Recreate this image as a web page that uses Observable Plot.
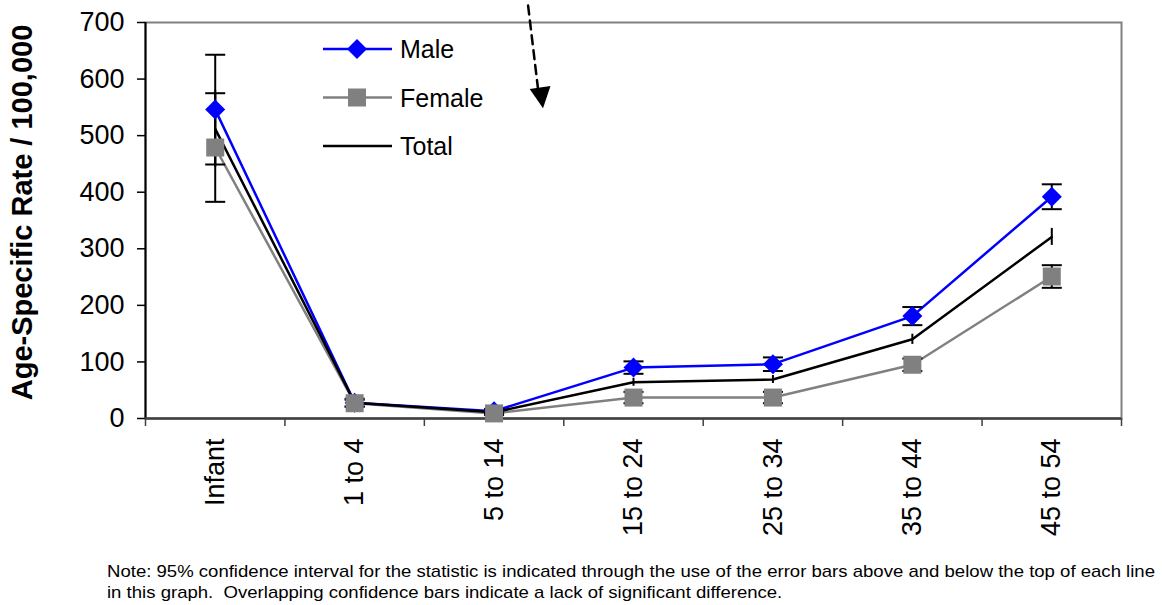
<!DOCTYPE html>
<html>
<head>
<meta charset="utf-8">
<script src="https://cdn.jsdelivr.net/npm/d3@7"></script>
<script src="https://cdn.jsdelivr.net/npm/@observablehq/plot@0.6"></script>
<style>
  html, body { margin: 0; padding: 0; background: #ffffff; }
  #wrap { position: relative; width: 1162px; height: 605px; font-family: "Liberation Sans", Arial, sans-serif; }
  #legend, #note { position: absolute; left: 0; }
  #legend { top: 0; pointer-events: none; }
  #note { top: 555px; }
</style>
</head>
<body>
<div id="wrap"></div>
<script>
// ---- data ----
const categories = ["Infant", "1 to 4", "5 to 14", "15 to 24", "25 to 34", "35 to 44", "45 to 54"];
const male      = [546, 28, 13, 90, 96, 181, 392];
const maleErr   = [97, 7, 4, 11, 12, 16, 22];
const female    = [479, 27, 9, 37, 37, 95, 251];
const femaleErr = [96, 6, 3, 10, 10, 11, 20];
const total     = [512, 28, 11, 64, 69, 140, 321];
const totalErr  = [68, 5, 3, 7, 7, 9, 15];
const yTicks = [0, 100, 200, 300, 400, 500, 600, 700];
const yTitle = "Age-Specific Rate / 100,000";
const legendItems = [
  {label: "Male", color: "#0000FF", marker: "diamond"},
  {label: "Female", color: "#808080", marker: "square"},
  {label: "Total", color: "#000000", marker: null}
];
// annotation arrow (data coordinates: category index, rate)
const arrowLine = [{x: 2.244, y: 730}, {x: 2.315, y: 583}];
const arrowHead = [{x: 2.337, y: 573}];
const noteLines = [
  "Note: 95% confidence interval for the statistic is indicated through the use of the error bars above and below the top of each line",
  "in this graph.  Overlapping confidence bars indicate a lack of significant difference."
];

// ---- tables ----
const rows = (vals, errs) => vals.map((v, i) => ({i, value: v, err: errs[i]}));
const maleRows = rows(male, maleErr);
const femaleRows = rows(female, femaleErr);
const totalRows = rows(total, totalErr);
const capRows = [...maleRows, ...femaleRows].flatMap(d => [
  {i: d.i, y: d.value - d.err}, {i: d.i, y: d.value + d.err}
]);

// ---- custom symbols ----
const capSymbol = {draw(ctx, size) { const r = Math.sqrt(size / Math.PI); ctx.moveTo(-r, 0); ctx.lineTo(r, 0); }};
const diamondSymbol = {draw(ctx, size) { const r = Math.sqrt(size / Math.PI); ctx.moveTo(0, -r); ctx.lineTo(r, 0); ctx.lineTo(0, r); ctx.lineTo(-r, 0); ctx.closePath(); }};
const squareSymbol = {draw(ctx, size) { const r = Math.sqrt(size / Math.PI); ctx.rect(-r, -r, 2 * r, 2 * r); }};
const headSymbol = {draw(ctx) { ctx.moveTo(1.95, 13.86); ctx.lineTo(-11.37, -5.47); ctx.lineTo(9.42, -8.39); ctx.closePath(); }};

const boundaries = d3.range(categories.length + 1).map(i => i - 0.5);
const idx = d3.range(categories.length);

const chart = Plot.plot({
  width: 1162,
  height: 555,
  marginLeft: 145,
  marginRight: 41,
  marginTop: 22,
  marginBottom: 137,
  style: {fontFamily: "'Liberation Sans', Arial, sans-serif", fontSize: "27px", color: "#000", background: "#fff", overflow: "visible"},
  x: {type: "linear", domain: [-0.5, categories.length - 0.5]},
  y: {domain: [0, 700]},
  marks: [
    Plot.frame({stroke: "#808080", strokeWidth: 2}),
    Plot.axisY({ticks: yTicks, tickSize: 8, tickPadding: 13, tickFormat: d => String(d), label: null, strokeWidth: 1.5, fontSize: 27}),
    Plot.axisX({ticks: boundaries, tickSize: 8, tickFormat: () => "", label: null, stroke: "#404040", strokeWidth: 1.5}),
    Plot.axisX({ticks: idx, tickSize: 0, tickPadding: 20, tickRotate: -90, tickFormat: i => categories[i], label: null, fontSize: 27}),
    Plot.ruleX([-0.5], {stroke: "#000", strokeWidth: 2}),
    Plot.ruleY([0], {stroke: "#404040", strokeWidth: 2.5}),
    // lines
    Plot.line(femaleRows, {x: "i", y: "value", stroke: "#808080", strokeWidth: 2.5}),
    Plot.line(maleRows, {x: "i", y: "value", stroke: "#0000FF", strokeWidth: 2.5}),
    Plot.line(totalRows, {x: "i", y: "value", stroke: "#000", strokeWidth: 2.5}),
    // error bars
    Plot.ruleX([...maleRows, ...femaleRows, ...totalRows], {x: "i", y1: d => d.value - d.err, y2: d => d.value + d.err, stroke: "#000", strokeWidth: 2}),
    Plot.dot(capRows, {x: "i", y: "y", symbol: capSymbol, r: 10, stroke: "#000", strokeWidth: 2, fill: "none"}),
    // markers
    Plot.dot(maleRows, {x: "i", y: "value", symbol: diamondSymbol, r: 10, fill: "#0000FF", stroke: "none"}),
    Plot.dot(femaleRows, {x: "i", y: "value", symbol: squareSymbol, r: 9, fill: "#808080", stroke: "none"}),
    // y title
    Plot.text([yTitle], {frameAnchor: "left", textAnchor: "middle", dx: -123, dy: -8, rotate: -90, fontWeight: "bold", fontSize: 29, fill: "#000"}),
    // annotation arrow
    Plot.line(arrowLine, {x: "x", y: "y", stroke: "#000", strokeWidth: 2.5, strokeDasharray: "9,6", clip: false}),
    Plot.dot(arrowHead, {x: "x", y: "y", symbol: headSymbol, r: 9, fill: "#000", stroke: "none"})
  ]
});
const wrap = document.getElementById("wrap");
wrap.appendChild(chart);

// ---- legend overlay ----
const leg = d3.select(wrap).append("svg").attr("id", "legend").attr("width", 1162).attr("height", 200)
  .style("font-family", "'Liberation Sans', Arial, sans-serif");
legendItems.forEach((it, k) => {
  const y = 49 + k * 48.5;
  const g = leg.append("g");
  g.append("line").attr("x1", 323).attr("x2", 392).attr("y1", y).attr("y2", y).attr("stroke", it.color).attr("stroke-width", 2.5);
  if (it.marker === "diamond") {
    g.append("path").attr("d", `M357,${y - 10}L367,${y}L357,${y + 10}L347,${y}Z`).attr("fill", it.color);
  } else if (it.marker === "square") {
    g.append("rect").attr("x", 348).attr("y", y - 9).attr("width", 18).attr("height", 18).attr("fill", it.color);
  }
  g.append("text").attr("x", 400).attr("y", y).attr("dy", "0.36em").attr("font-size", 25).attr("fill", "#000").text(it.label);
});

// ---- note ----
const note = d3.select(wrap).append("svg").attr("id", "note").attr("width", 1162).attr("height", 50)
  .style("font-family", "'Liberation Sans', Arial, sans-serif");
const t1 = note.append("text").attr("x", 107).attr("y", 22).attr("font-size", 17).attr("fill", "#000").style("white-space", "pre").text(noteLines[0]);
const t2 = note.append("text").attr("x", 107).attr("y", 43).attr("font-size", 17).attr("fill", "#000").style("white-space", "pre").text(noteLines[1]);
const w1 = t1.node().getComputedTextLength();
const ratio = 1048 / w1;
t1.attr("textLength", 1048).attr("lengthAdjust", "spacingAndGlyphs");
const w2 = t2.node().getComputedTextLength();
t2.attr("textLength", w2 * ratio).attr("lengthAdjust", "spacingAndGlyphs");
</script>
</body>
</html>
